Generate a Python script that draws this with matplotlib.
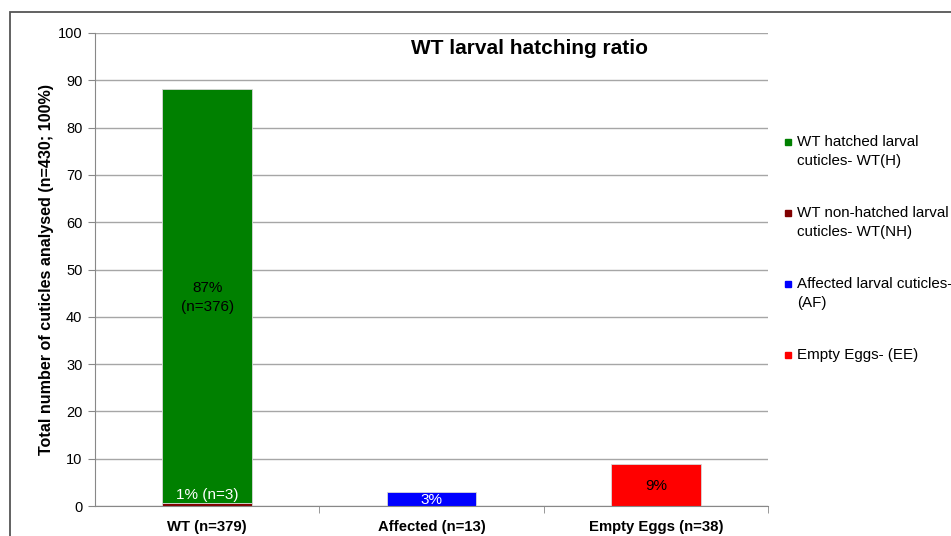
import matplotlib
matplotlib.use("Agg")
import matplotlib.pyplot as plt
from matplotlib.patches import Rectangle
import numpy as np

plt.rcParams['font.family'] = ['Liberation Sans', 'DejaVu Sans']

categories = ["WT (n=379)", "Affected (n=13)", "Empty Eggs (n=38)"]
wt_nh = [0.7, 0, 0]
wt_h = [87.4, 0, 0]
affected = [0, 3.0, 0]
empty = [0, 0, 8.84]
series_names = ["WT hatched larval\ncuticles- WT(H)",
                "WT non-hatched larval\ncuticles- WT(NH)",
                "Affected larval cuticles-\n(AF)",
                "Empty Eggs- (EE)"]
series_colors = ["#008000", "#800000", "#0000FF", "#FF0000"]

fig = plt.figure(figsize=(9.51, 5.36), dpi=100)
ax = fig.add_axes([95/951, 1-506/536, (768-95)/951, (506-33)/536])

x = np.arange(len(categories))
w = 0.4
edge = dict(edgecolor="#d8d8d8", linewidth=0.6)
ax.bar(x, wt_nh, w, color=series_colors[1], **edge)
ax.bar(x, wt_h, w, bottom=wt_nh, color=series_colors[0], **edge)
ax.bar(x, affected, w, color=series_colors[2], **edge)
ax.bar(x, empty, w, color=series_colors[3], **edge)

# value labels
ax.text(x[0], wt_nh[0] + wt_h[0] / 2 - 0.4, "87%\n(n=376)", ha="center", va="center",
        fontsize=11, color="black", linespacing=1.45)
ax.text(x[0], wt_nh[0] + 1.7, "1% (n=3)", ha="center", va="center",
        fontsize=11, color="white")
ax.text(x[1], affected[1] / 2 - 0.3, "3%", ha="center", va="center",
        fontsize=11, color="white")
ax.text(x[2], empty[2] / 2 - 0.2, "9%", ha="center", va="center",
        fontsize=11, color="black")

ax.set_xlim(-0.5, 2.5)
ax.set_ylim(0, 100)
ax.set_yticks(range(0, 101, 10))
ax.yaxis.grid(True, color="#a6a6a6", linewidth=1.0)
ax.set_axisbelow(True)
ax.set_xticks(x)
ax.set_xticklabels(categories, fontsize=10.7, fontweight="bold")
ax.set_xticks([0.5, 1.5, 2.5], minor=True)
ax.tick_params(axis="x", which="major", length=0, pad=10)
ax.tick_params(axis="x", which="minor", length=5, color="#888888", direction="out")
ax.tick_params(axis="y", length=5, color="#888888", labelsize=10.5, pad=4)
for s in ["top", "right"]:
    ax.spines[s].set_visible(False)
ax.spines["left"].set_color("#888888")
ax.spines["bottom"].set_color("#888888")

ax.set_ylabel("Total number of cuticles analysed (n=430; 100%)", fontsize=11.6,
              fontweight="bold", labelpad=3)
ax.text(0.645, 0.968, "WT larval hatching ratio", transform=ax.transAxes,
        ha="center", va="center", fontsize=15, fontweight="bold")

# legend on the right
leg_y = [142, 213, 284, 355]
for name, col, yy in zip(series_names, series_colors, leg_y):
    fig.patches.append(Rectangle((785/951, 1-(yy+3)/536), 6/951, 6/536,
                                 transform=fig.transFigure, color=col))
    fig.text(797/951, 1-(yy-7)/536, name, ha="left", va="top", fontsize=10.9,
             linespacing=1.42)

# outer chart frame
fig.patches.append(Rectangle((10/951, -0.05), 1.2, 1-12/536+0.05,
                             transform=fig.transFigure, fill=False,
                             edgecolor="#555555", linewidth=1.3))

fig.savefig("out.png", dpi=100)
